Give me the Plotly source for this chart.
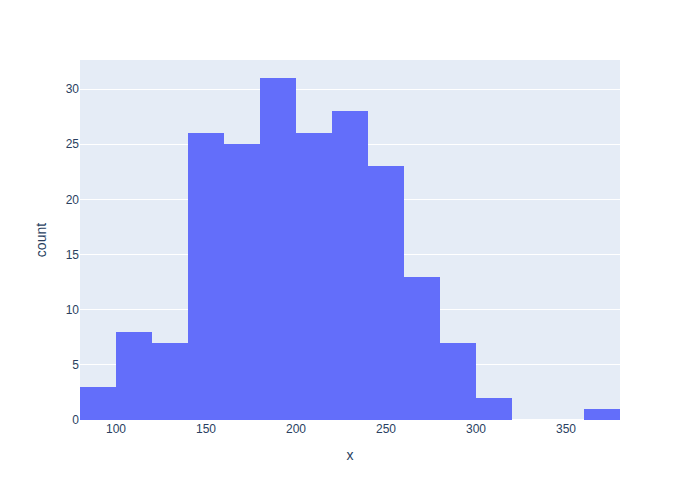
import plotly.graph_objects as go

bin_starts = [80, 100, 120, 140, 160, 180, 200, 220, 240, 260, 280, 300, 320, 340, 360]
counts = [3, 8, 7, 26, 25, 31, 26, 28, 23, 13, 7, 2, 0, 0, 1]
bin_size = 20

centers = [s + bin_size / 2 for s in bin_starts]

fig = go.Figure(go.Histogram(
    x=centers, y=counts, histfunc="sum",
    xbins=dict(start=80, end=380, size=bin_size),
    marker_color="#636efa",
))
fig.update_layout(
    template="plotly",
    width=700, height=500,
    font=dict(family="Liberation Sans, Arial, sans-serif"),
    margin=dict(l=72, r=88, t=52, b=88),
    bargap=0,
    xaxis_title="x",
    yaxis_title="count",
    showlegend=False,
)
fig.write_html("out.html")
